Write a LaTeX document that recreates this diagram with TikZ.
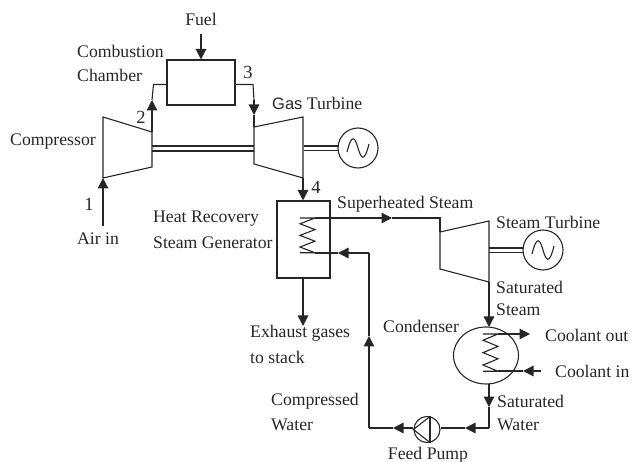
\documentclass[tikz,border=0pt]{standalone}
\usepackage{fontspec}
\setmainfont{Liberation Serif}
\setsansfont{Liberation Sans}
\usepackage{tikz}
\usetikzlibrary{arrows.meta,positioning,calc,shapes.geometric}
\tikzset{
  flow/.style={line width=1.3pt,black!85,-{Triangle[length=10.5pt,width=10.5pt]}},
  pipe/.style={line width=1.1pt,black!85},
  unit/.style={draw=black!85,line width=1.1pt},
  shaft/.style={line width=1.1pt,black!85},
  genset/.style={circle,draw=black!85,line width=1.1pt,minimum size=40pt,inner sep=0pt},
  pumpset/.style={circle,draw=black!85,line width=1.1pt,minimum size=26pt,inner sep=0pt},
  tag/.style={font=\fontsize{17.7}{20}\selectfont,text=black!85,inner sep=0pt,align=left},
  num/.style={font=\fontsize{18.5}{20}\selectfont,text=black!85,inner sep=0pt},
}
\newcommand{\coilpath}[3]{% zigzag between two end points
  (#1,#2) -- ++(15,0) -- ++(-15,5.8*#3) -- ++(15,5.8*#3) -- ++(-15,5.8*#3) -- ++(15,5.8*#3) -- ++(-15,5.8*#3) -- ++(15,5.8*#3) -- ++(-15,0)}
\newcommand{\sinepath}[2]{% one wave inside a generator
  (#1-11,#2+4) .. controls (#1-6,#2-16) and (#1-3,#2-10) .. (#1,#2) .. controls (#1+3,#2+10) and (#1+6,#2+16) .. (#1+11,#2-4)}
\begin{document}
\begin{tikzpicture}[x=1pt,y=-1pt]
  \useasboundingbox (0,0) rectangle (632,462);
  % Gas cycle units
  \node[unit,minimum width=68pt,minimum height=45pt,inner sep=0pt] (chamber) at (201,82.5) {};
  \draw[unit] (103,117) -- (152,132) -- (152,167) -- (103,178) -- cycle;
  \draw[unit] (254,127) -- (303,117) -- (303,178) -- (254,164) -- cycle;
  \node[genset] (gasgen) at (358,148) {};
  \draw[line width=1.1pt,black!85] \sinepath{358}{148};
  \coordinate (compin) at (103,178);
  \coordinate (compout) at (152,132);
  \coordinate (gasin) at (254,127);
  \coordinate (gasout) at (303,178);
  \coordinate (airin) at (103,226);
  \coordinate (fuelin) at (201,34);
  % Shafts
  \draw[shaft] (152,146) -- (254,146);
  \draw[shaft] (152,151) -- (254,151);
  \draw[shaft] (304,146) -- (339,146);
  \draw[shaft] (304,150.5) -- (339,150.5);
  % Gas path
  \draw[flow] (airin) -- (compin);
  \draw[flow] (fuelin) -- (chamber.north);
  \draw[flow] (compout) -- (152,100);
  \draw[pipe] (152,100) -- (153.5,84.5) -- (chamber.west |- 0,84.5);
  \draw[pipe] (chamber.east |- 0,84.5) -- (253,84.5) -- (254,100);
  \draw[flow] (254,100) -- (254,115);
  \draw[pipe] (254,115) -- (gasin);
  % Heat recovery steam generator
  \node[unit,minimum width=53pt,minimum height=77pt,inner sep=0pt] (hrsg) at (303.5,239.5) {};
  \draw[flow] (gasout) -- (hrsg.north -| gasout);
  \coordinate (stack) at (303,326);
  \draw[flow] (hrsg.south -| stack) -- (stack);
  \draw[pipe] \coilpath{300}{218}{1};
  % Steam turbine
  \draw[unit] (440,232) -- (489,221) -- (489,282) -- (440,269) -- cycle;
  \node[genset] (steamgen) at (543,250) {};
  \draw[line width=1.1pt,black!85] \sinepath{543}{250};
  \draw[shaft] (489,248) -- (524,248);
  \draw[shaft] (489,252.5) -- (524,252.5);
  \coordinate (steamin) at (440,232);
  \coordinate (steamout) at (489,282);
  \draw[flow] (315,218) -- (392,218);
  \draw[pipe] (392,218) -- (440,218) -- (steamin);
  % Condenser
  \node[unit,ellipse,minimum width=65pt,minimum height=57pt,inner sep=0pt] (condenser) at (486,355.5) {};
  \draw[flow] (steamout) -- (489,327);
  \draw[pipe] \coilpath{483}{334}{1.07};
  \draw[flow] (498,334) -- (530,334);
  \coordinate (coolantin) at (541,371);
  \draw[flow] (coolantin) -- (523,371);
  \draw[pipe] (523,371) -- (498,371);
  % Feed water loop
  \node[pumpset] (pump) at (427,429.5) {};
  \draw[pipe] (pump.north) ++(3,0.5) -- (pump.west) -- ($(pump.south)+(3,-0.5)$);
  \draw[pipe] (pump.north) ++(3,0.5) -- ($(pump.south)+(3,-0.5)$);
  \draw[flow] (489,384) -- (489,407);
  \draw[pipe] (489,407) -- (489,428);
  \draw[flow] (489,428) -- (465,428);
  \draw[pipe] (465,428) -- (pump.east |- 0,428);
  \draw[flow] (pump.west |- 0,428) -- (393,428);
  \draw[pipe] (393,428) -- (369,428);
  \draw[flow] (369,428) -- (369,336);
  \draw[pipe] (369,336) -- (369,253);
  \draw[flow] (369,253) -- (338,253);
  \draw[pipe] (338,253) -- (315,253);
  % Labels
  \node[tag] (fuel) at (201,19) {Fuel};
  \node[tag,anchor=west] (comblabel) at (77,51) {Combustion};
  \node[tag,anchor=west] (chamblabel) at (77,75) {Chamber};
  \node[tag,anchor=west] (complabel) at (10,142) {Compressor};
  \node[tag,anchor=west] (gaslabel) at (272,103) {{\sffamily\fontsize{16.5}{20}\selectfont Gas} Turbine};
  \node[num] (numa) at (89,204) {1};
  \node[num] (numb) at (141,117) {2};
  \node[num] (numc) at (248,72) {3};
  \node[num] (numd) at (316,187) {4};
  \node[tag,anchor=west] (airlabel) at (77,239) {Air in};
  \node[tag,anchor=west] (heatlabel) at (153,219) {Heat Recovery};
  \node[tag,anchor=west] (genlabel) at (153,243) {Steam Generator};
  \node[tag,anchor=west] (superlabel) at (337,204) {Superheated Steam};
  \node[tag,anchor=west] (steamlabel) at (496,222) {Steam Turbine};
  \node[tag,anchor=west] (satalabel) at (496,287) {Saturated};
  \node[tag,anchor=west] (satblabel) at (496,310) {Steam};
  \node[tag,anchor=west] (condlabel) at (383,326) {Condenser};
  \node[tag,anchor=west] (outlabel) at (545,335) {Coolant out};
  \node[tag,anchor=west] (inlabel) at (555,371) {Coolant in};
  \node[tag,anchor=west] (exhlabel) at (250,333) {Exhaust gases};
  \node[tag,anchor=west] (stacklabel) at (250,357) {to stack};
  \node[tag,anchor=west] (presslabel) at (271,401) {Compressed};
  \node[tag,anchor=west] (watlabel) at (271,425) {Water};
  \node[tag,anchor=west] (satclabel) at (497,401) {Saturated};
  \node[tag,anchor=west] (satdlabel) at (497,425) {Water};
  \node[tag] (pumplabel) at (428,455) {Feed Pump};
\end{tikzpicture}
\end{document}
